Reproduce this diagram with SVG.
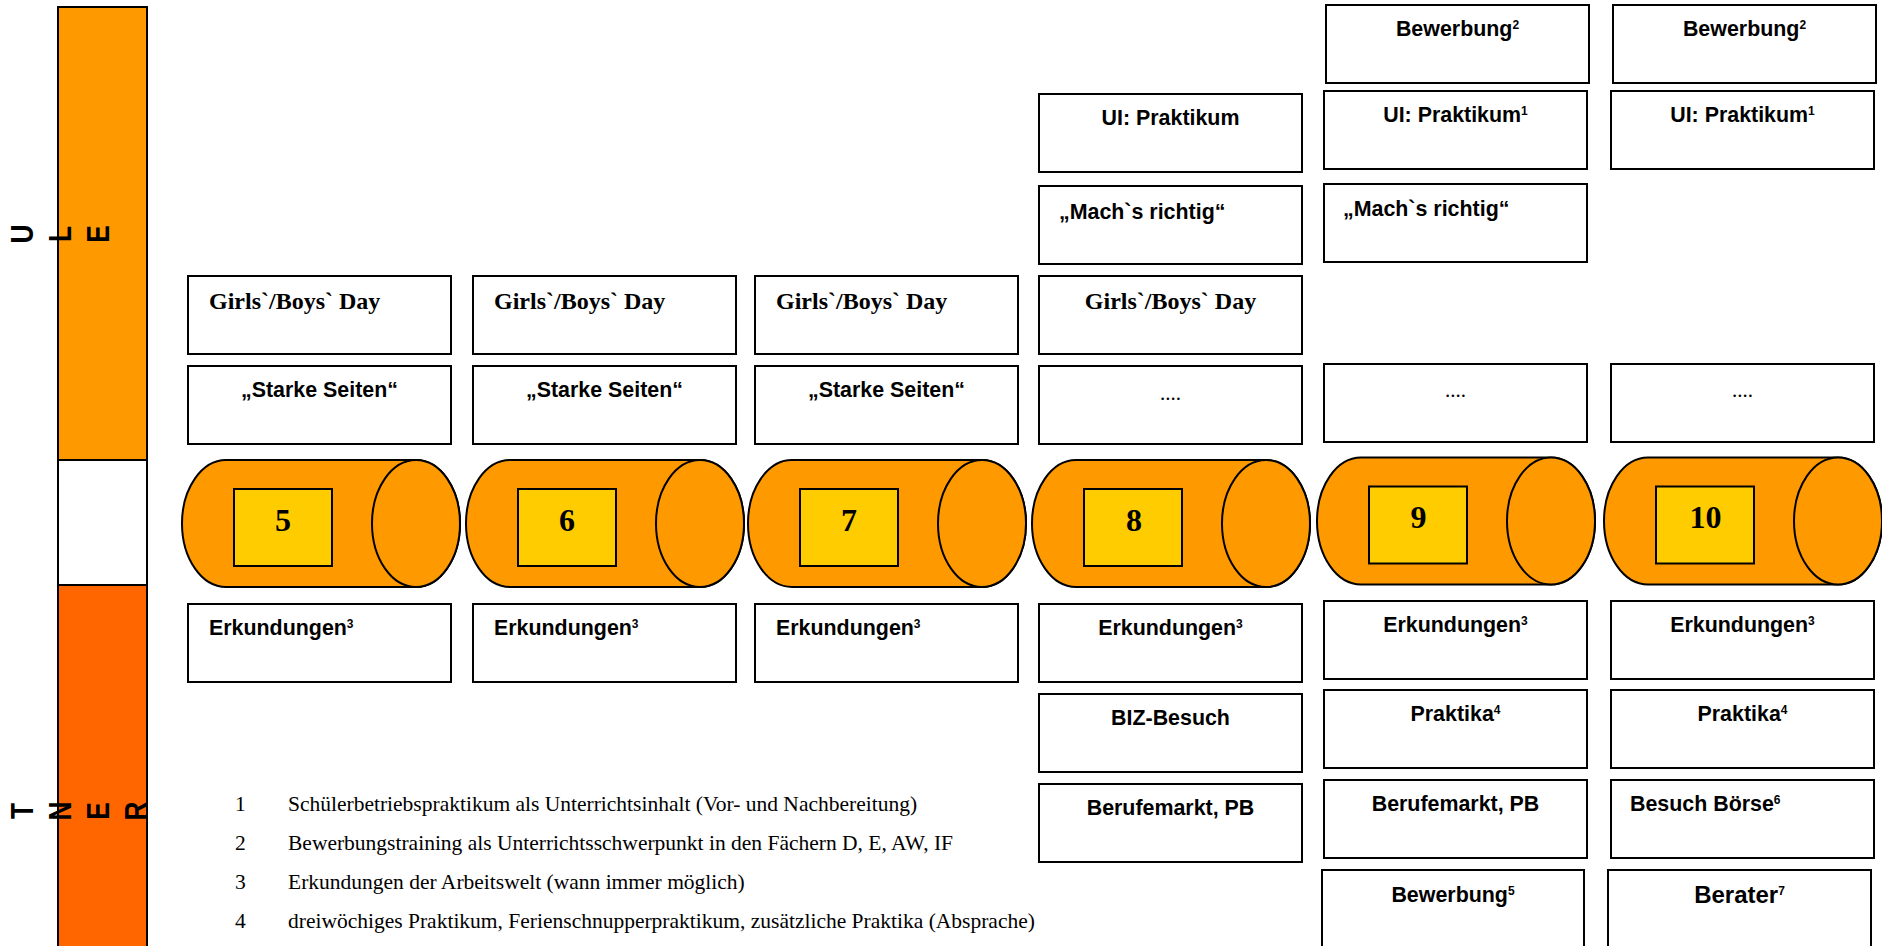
<svg xmlns="http://www.w3.org/2000/svg" width="1882" height="946" viewBox="0 0 1882 946">
<style>
.box{fill:#fff;stroke:#000;stroke-width:2}
.cyl{fill:#FF9900;stroke:#000;stroke-width:2}
.sq{fill:#FFCC00;stroke:#000;stroke-width:2}
.t{font-family:"Liberation Sans",Arial,sans-serif;font-weight:bold;font-size:21.4px;fill:#000}
.c{text-anchor:middle}
.g{font-family:"Liberation Serif","Times New Roman",serif;font-weight:bold;font-size:24px;fill:#000}
.d{font-family:"Liberation Serif","Times New Roman",serif;font-size:21px;fill:#000;text-anchor:middle}
.n{font-family:"Liberation Serif","Times New Roman",serif;font-weight:bold;font-size:32px;fill:#000;text-anchor:middle}
.f{font-family:"Liberation Serif","Times New Roman",serif;font-size:21.5px;fill:#000}
.v{font-family:"Liberation Sans",Arial,sans-serif;font-weight:bold;font-size:31px;fill:#000;text-anchor:middle}
.s{font-size:12px}
</style>
<defs>
<g id="cylinder">
<path class="cyl" d="M44,0 H234 A44 63.5 0 0 1 234,127 H44 A44 63.5 0 0 1 44,0 Z"/>
<ellipse class="cyl" cx="234" cy="63.5" rx="44" ry="63.5"/>
<rect class="sq" x="52" y="29" width="98" height="77"/>
</g>
</defs>

<g id="sidebar">
<rect x="58" y="7" width="89" height="453" fill="#FF9900" stroke="#000" stroke-width="2"/>
<line x1="58" y1="460" x2="58" y2="585" stroke="#000" stroke-width="2"/>
<line x1="147" y1="460" x2="147" y2="585" stroke="#000" stroke-width="2"/>
<rect x="58" y="585" width="89" height="380" fill="#FF6600" stroke="#000" stroke-width="2"/>
<text class="v" transform="translate(21.5,234) rotate(-90) scale(0.85,1)" y="11">U</text>
<text class="v" transform="translate(59.5,234) rotate(-90) scale(0.85,1)" y="11">L</text>
<text class="v" transform="translate(97.5,234) rotate(-90) scale(0.85,1)" y="11">E</text>
<text class="v" transform="translate(21.5,811) rotate(-90) scale(0.85,1)" y="11">T</text>
<text class="v" transform="translate(59.5,811) rotate(-90) scale(0.85,1)" y="11">N</text>
<text class="v" transform="translate(97.5,811) rotate(-90) scale(0.85,1)" y="11">E</text>
<text class="v" transform="translate(136,811) rotate(-90) scale(0.85,1)" y="11">R</text>
</g>

<g id="col5">
<rect class="box" x="188" y="276" width="263" height="78"/>
<text class="g" x="209" y="309">Girls`/Boys` Day</text>
<rect class="box" x="188" y="366" width="263" height="78"/>
<text class="t c" x="319.5" y="397">„Starke Seiten“</text>
<use href="#cylinder" x="182" y="460"/>
<text class="n" x="283" y="531">5</text>
<rect class="box" x="188" y="604" width="263" height="78"/>
<text class="t" x="209" y="635">Erkundungen<tspan class="s" dy="-7">3</tspan></text>
</g>

<g id="col6">
<rect class="box" x="473" y="276" width="263" height="78"/>
<text class="g" x="494" y="309">Girls`/Boys` Day</text>
<rect class="box" x="473" y="366" width="263" height="78"/>
<text class="t c" x="604.5" y="397">„Starke Seiten“</text>
<use href="#cylinder" x="466" y="460"/>
<text class="n" x="567" y="531">6</text>
<rect class="box" x="473" y="604" width="263" height="78"/>
<text class="t" x="494" y="635">Erkundungen<tspan class="s" dy="-7">3</tspan></text>
</g>

<g id="col7">
<rect class="box" x="755" y="276" width="263" height="78"/>
<text class="g" x="776" y="309">Girls`/Boys` Day</text>
<rect class="box" x="755" y="366" width="263" height="78"/>
<text class="t c" x="886.5" y="397">„Starke Seiten“</text>
<use href="#cylinder" x="748" y="460"/>
<text class="n" x="849" y="531">7</text>
<rect class="box" x="755" y="604" width="263" height="78"/>
<text class="t" x="776" y="635">Erkundungen<tspan class="s" dy="-7">3</tspan></text>
</g>

<g id="col8">
<rect class="box" x="1039" y="94" width="263" height="78"/>
<text class="t c" x="1170.5" y="125">UI: Praktikum</text>
<rect class="box" x="1039" y="186" width="263" height="78"/>
<text class="t" x="1059" y="219">„Mach`s richtig“</text>
<rect class="box" x="1039" y="276" width="263" height="78"/>
<text class="g c" x="1170.5" y="309">Girls`/Boys` Day</text>
<rect class="box" x="1039" y="366" width="263" height="78"/>
<text class="d" x="1170.5" y="400">....</text>
<use href="#cylinder" x="1032" y="460"/>
<text class="n" x="1134" y="531">8</text>
<rect class="box" x="1039" y="604" width="263" height="78"/>
<text class="t c" x="1170.5" y="635">Erkundungen<tspan class="s" dy="-7">3</tspan></text>
<rect class="box" x="1039" y="694" width="263" height="78"/>
<text class="t c" x="1170.5" y="725">BIZ-Besuch</text>
<rect class="box" x="1039" y="784" width="263" height="78"/>
<text class="t c" x="1170.5" y="815">Berufemarkt, PB</text>
</g>

<g id="col9">
<rect class="box" x="1326" y="5" width="263" height="78"/>
<text class="t c" x="1457.5" y="36">Bewerbung<tspan class="s" dy="-7">2</tspan></text>
<rect class="box" x="1324" y="91" width="263" height="78"/>
<text class="t c" x="1455.5" y="122">UI: Praktikum<tspan class="s" dy="-7">1</tspan></text>
<rect class="box" x="1324" y="184" width="263" height="78"/>
<text class="t" x="1343" y="216">„Mach`s richtig“</text>
<rect class="box" x="1324" y="364" width="263" height="78"/>
<text class="d" x="1455.5" y="397">....</text>
<use href="#cylinder" x="1317" y="457.5"/>
<text class="n" x="1418.5" y="528">9</text>
<rect class="box" x="1324" y="601" width="263" height="78"/>
<text class="t c" x="1455.5" y="632">Erkundungen<tspan class="s" dy="-7">3</tspan></text>
<rect class="box" x="1324" y="690" width="263" height="78"/>
<text class="t c" x="1455.5" y="721">Praktika<tspan class="s" dy="-7">4</tspan></text>
<rect class="box" x="1324" y="780" width="263" height="78"/>
<text class="t c" x="1455.5" y="811">Berufemarkt, PB</text>
<rect class="box" x="1322" y="870" width="262" height="100"/>
<text class="t c" x="1453" y="902">Bewerbung<tspan class="s" dy="-7">5</tspan></text>
</g>

<g id="col10">
<rect class="box" x="1613" y="5" width="263" height="78"/>
<text class="t c" x="1744.5" y="36">Bewerbung<tspan class="s" dy="-7">2</tspan></text>
<rect class="box" x="1611" y="91" width="263" height="78"/>
<text class="t c" x="1742.5" y="122">UI: Praktikum<tspan class="s" dy="-7">1</tspan></text>
<rect class="box" x="1611" y="364" width="263" height="78"/>
<text class="d" x="1742.5" y="397">....</text>
<use href="#cylinder" x="1604" y="457.5"/>
<text class="n" x="1705.5" y="528">10</text>
<rect class="box" x="1611" y="601" width="263" height="78"/>
<text class="t c" x="1742.5" y="632">Erkundungen<tspan class="s" dy="-7">3</tspan></text>
<rect class="box" x="1611" y="690" width="263" height="78"/>
<text class="t c" x="1742.5" y="721">Praktika<tspan class="s" dy="-7">4</tspan></text>
<rect class="box" x="1611" y="780" width="263" height="78"/>
<text class="t" x="1630" y="811">Besuch Börse<tspan class="s" dy="-7">6</tspan></text>
<rect class="box" x="1608" y="870" width="263" height="100"/>
<text class="t c" x="1739.5" y="903" style="font-size:24px">Berater<tspan class="s" dy="-8">7</tspan></text>
</g>

<g id="footnotes">
<text class="f" x="235" y="811">1</text>
<text class="f" x="288" y="811">Schülerbetriebspraktikum als Unterrichtsinhalt (Vor- und Nachbereitung)</text>
<text class="f" x="235" y="850">2</text>
<text class="f" x="288" y="850">Bewerbungstraining als Unterrichtsschwerpunkt in den Fächern D, E, AW, IF</text>
<text class="f" x="235" y="889">3</text>
<text class="f" x="288" y="889">Erkundungen der Arbeitswelt (wann immer möglich)</text>
<text class="f" x="235" y="928">4</text>
<text class="f" x="288" y="928">dreiwöchiges Praktikum, Ferienschnupperpraktikum, zusätzliche Praktika (Absprache)</text>
</g>

<g id="connectors"></g>
</svg>
